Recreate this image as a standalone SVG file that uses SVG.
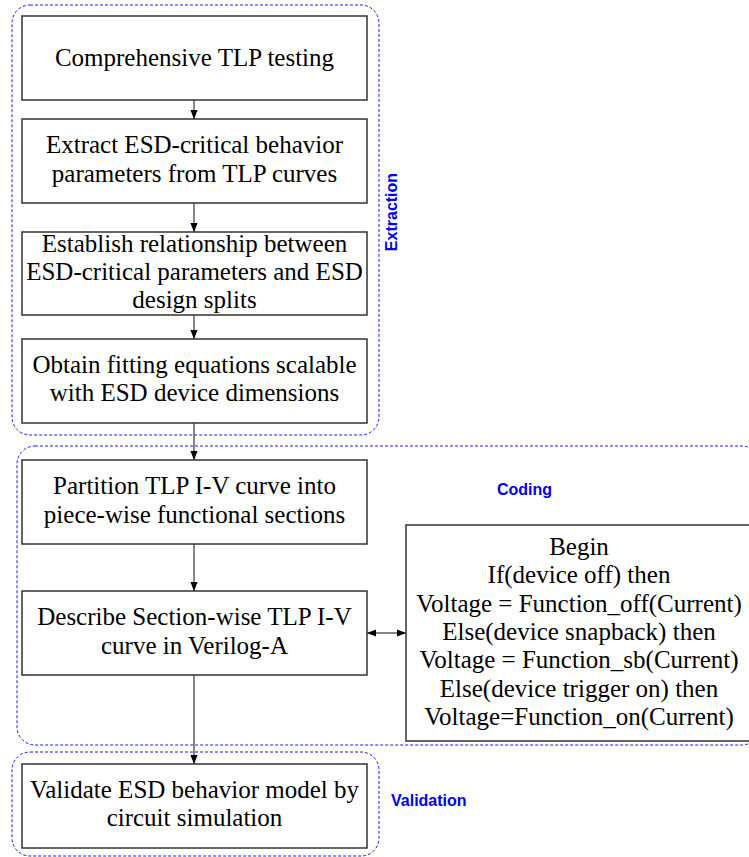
<svg xmlns="http://www.w3.org/2000/svg" width="749" height="857" viewBox="0 0 749 857">
  <style>
    .group { fill: none; stroke: #1a1aff; stroke-width: 1; stroke-dasharray: 3 2; }
    .box { fill: #ffffff; stroke: #333333; stroke-width: 1.5; }
    .txt { font-family: "Liberation Serif", "Times New Roman", serif; font-size: 25px; fill: #000000; text-anchor: middle; }
    .lbl { font-family: "Liberation Sans", Arial, sans-serif; font-size: 16px; font-weight: bold; fill: #0000ee; }
    .conn { stroke: #111111; stroke-width: 1; fill: none; }
  </style>
  <defs>
    <marker id="arrow" viewBox="0 0 10 10" refX="10" refY="5" markerWidth="9" markerHeight="9" markerUnits="userSpaceOnUse" orient="auto-start-reverse">
      <path d="M0,1 L10,5 L0,9 Z" fill="#000000"/>
    </marker>
  </defs>
  <rect width="749" height="857" fill="#ffffff"/>

  <!-- phase groupings -->
  <g id="grp-extraction">
    <rect class="group" x="12" y="5" width="367" height="430" rx="18"/>
    <text class="lbl" transform="translate(397,212) rotate(-90)" text-anchor="middle">Extraction</text>
  </g>
  <g id="grp-coding">
    <rect class="group" x="17" y="446" width="743" height="299" rx="18"/>
    <text class="lbl" x="497" y="495">Coding</text>
  </g>
  <g id="grp-validation">
    <rect class="group" x="12" y="752" width="367" height="104" rx="18"/>
    <text class="lbl" x="391" y="806">Validation</text>
  </g>

  <!-- connectors -->
  <g id="connectors">
    <line class="conn" x1="194" y1="100" x2="194" y2="119" marker-end="url(#arrow)"/>
    <line class="conn" x1="194" y1="203" x2="194" y2="232" marker-end="url(#arrow)"/>
    <line class="conn" x1="194" y1="315" x2="194" y2="339" marker-end="url(#arrow)"/>
    <line class="conn" x1="194" y1="423" x2="194" y2="460" marker-end="url(#arrow)"/>
    <line class="conn" x1="194" y1="544" x2="194" y2="591" marker-end="url(#arrow)"/>
    <line class="conn" x1="194" y1="675" x2="194" y2="764" marker-end="url(#arrow)"/>
    <line class="conn" x1="367" y1="633" x2="406" y2="633" marker-start="url(#arrow)" marker-end="url(#arrow)"/>
  </g>

  <!-- process steps -->
  <g id="step-tlp-testing">
    <rect class="box" x="22" y="16" width="345" height="84"/>
    <text class="txt" x="194.5" y="66">Comprehensive TLP testing</text>
  </g>
  <g id="step-extract">
    <rect class="box" x="22" y="119" width="345" height="84"/>
    <text class="txt" x="194.5" y="153">Extract ESD-critical behavior</text>
    <text class="txt" x="194.5" y="182">parameters from TLP curves</text>
  </g>
  <g id="step-relationship">
    <rect class="box" x="22" y="232" width="345" height="83"/>
    <text class="txt" x="194.5" y="252">Establish relationship between</text>
    <text class="txt" x="194.5" y="280">ESD-critical parameters and ESD</text>
    <text class="txt" x="194.5" y="308">design splits</text>
  </g>
  <g id="step-fitting">
    <rect class="box" x="22" y="339" width="345" height="84"/>
    <text class="txt" x="194.5" y="373">Obtain fitting equations scalable</text>
    <text class="txt" x="194.5" y="401">with ESD device dimensions</text>
  </g>
  <g id="step-partition">
    <rect class="box" x="22" y="460" width="345" height="84"/>
    <text class="txt" x="194.5" y="494">Partition TLP I-V curve into</text>
    <text class="txt" x="194.5" y="523">piece-wise functional sections</text>
  </g>
  <g id="step-describe">
    <rect class="box" x="22" y="591" width="345" height="84"/>
    <text class="txt" x="194.5" y="625">Describe Section-wise TLP I-V</text>
    <text class="txt" x="194.5" y="654">curve in Verilog-A</text>
  </g>
  <g id="step-validate">
    <rect class="box" x="22" y="764" width="345" height="84"/>
    <text class="txt" x="194.5" y="798">Validate ESD behavior model by</text>
    <text class="txt" x="194.5" y="826">circuit simulation</text>
  </g>
  <g id="code-block">
    <rect class="box" x="406" y="525" width="360" height="216"/>
    <text class="txt" x="579" y="555">Begin</text>
    <text class="txt" x="579" y="583">If(device off) then</text>
    <text class="txt" x="579" y="612">Voltage = Function_off(Current)</text>
    <text class="txt" x="579" y="640">Else(device snapback) then</text>
    <text class="txt" x="579" y="668">Voltage = Function_sb(Current)</text>
    <text class="txt" x="579" y="697">Else(device trigger on) then</text>
    <text class="txt" x="579" y="725">Voltage=Function_on(Current)</text>
  </g>
</svg>
